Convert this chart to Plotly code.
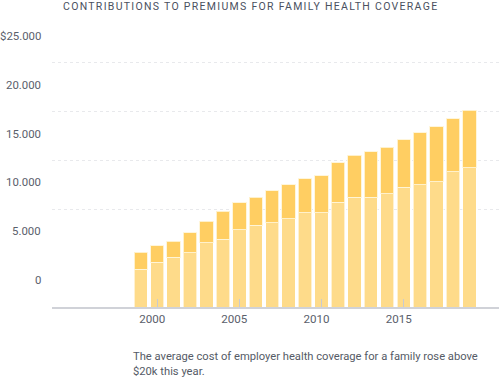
import plotly.graph_objects as go

years = list(range(1999, 2020))
employer = [3890, 4610, 5120, 5570, 6590, 6930, 7890, 8400, 8640, 9050, 9630,
            9630, 10730, 11240, 11240, 11580, 12260, 12500, 12840, 13830, 14270]
worker = [1710, 1640, 1640, 2040, 2190, 2870, 2800, 2840, 3250, 3450, 3490,
          3820, 4060, 4300, 4670, 4810, 4850, 5330, 5600, 5430, 5910]
ytick_vals = [0, 5000, 10000, 15000, 20000, 25000]
ytick_text = ["0", "5.000", "10.000", "15.000", "20.000", "$25.000"]
grid_vals = [10000, 15000, 20000, 25000]
xtick_vals = [2000, 2005, 2010, 2015]

fig = go.Figure()
fig.add_bar(x=years, y=employer, name="Employer",
            marker=dict(color="#FEDB8A", line=dict(color="rgba(255,255,255,0.6)", width=1)),
            width=0.81)
fig.add_bar(x=years, y=worker, name="Worker",
            marker=dict(color="#FFCE62", line=dict(color="rgba(255,245,215,0.9)", width=1)),
            width=0.81)

annotations = []
for v, t in zip(ytick_vals, ytick_text):
    annotations.append(dict(x=0, xref="paper", y=v, yref="y", text=t, showarrow=False,
                            xanchor="right", yanchor="middle", xshift=-9, yshift=27,
                            font=dict(family="Roboto", size=11.4, color="#5a606b")))
annotations.append(dict(x=0.5, xref="paper", y=1.127, yref="paper", yanchor="middle",
                        text='<span style="letter-spacing:1.3px">CONTRIBUTIONS TO PREMIUMS FOR FAMILY HEALTH COVERAGE</span>',
                        showarrow=False, xanchor="center", xshift=-25,
                        font=dict(family="Roboto", size=10.5, color="#4a5060")))
annotations.append(dict(x=0.177, xref="paper", y=-0.155, yref="paper", yanchor="top",
                        xanchor="left", align="left", showarrow=False,
                        text="The average cost of employer health coverage for a family rose above<br>$20k this year.",
                        font=dict(family="Roboto", size=11.2, color="#555b66")))

fig.update_layout(
    barmode="stack",
    width=500, height=378,
    margin=dict(l=52, r=1, t=40, b=71),
    plot_bgcolor="white", paper_bgcolor="white",
    showlegend=False,
    annotations=annotations,
    xaxis=dict(range=[1993.6, 2020.8], tickvals=xtick_vals, ticks="inside", ticklen=8,
               tickcolor="#c8cad0", tickwidth=1, showgrid=False, zeroline=False,
               showline=True, linecolor="#d0d2d8", linewidth=2, ticklabelshift=-5,
               tickfont=dict(family="Roboto", size=11.6, color="#5a606b")),
    yaxis=dict(range=[0, 27350], tickvals=grid_vals,
               showticklabels=False, showgrid=True, gridcolor="#e8e9ec",
               griddash="dot", gridwidth=1, zeroline=False),
)

fig.write_html("out.html", config={"displayModeBar": False},
               post_script="document.body.style.margin='0';")
